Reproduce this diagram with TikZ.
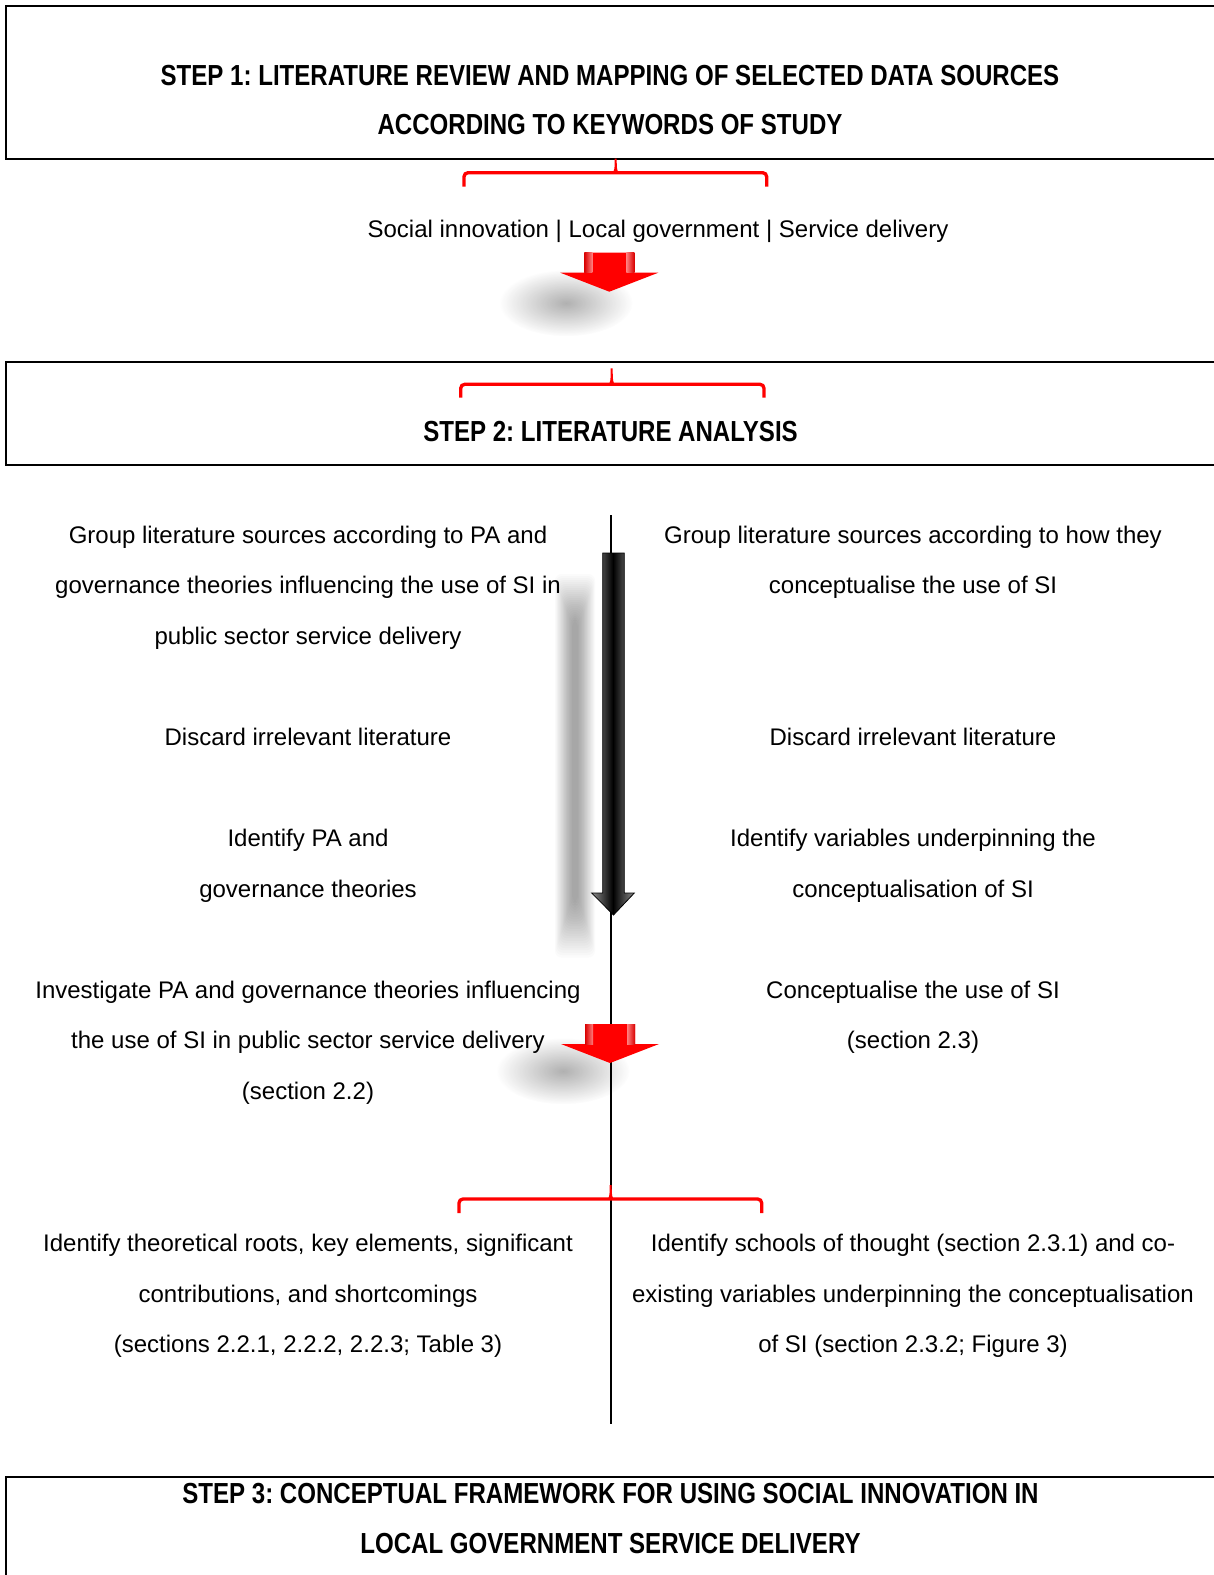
\documentclass[tikz,border=0pt]{standalone}
\usepackage{fontspec}
\setmainfont{Liberation Sans}
\newfontfamily\headfont[FakeStretch=0.83]{Liberation Sans}
\usetikzlibrary{fadings}
\frenchspacing

% soft round shadow used under the red pointers
\tikzfading[name=softspot, inner color=transparent!64, outer color=transparent!100]

% multi-line nodes are anchored on the baseline of their last line
\tikzset{
  stepframe/.style={draw=black, line width=1.7pt},
  headtext/.style={font=\headfont\bfseries\fontsize{21.75pt}{37.3pt}\selectfont,
                   align=center, anchor=base, inner sep=0pt},
  bodytext/.style={font=\fontsize{18pt}{37.9pt}\selectfont,
                   align=center, anchor=base, inner sep=0pt},
  bracket/.style={draw=red, line width=2.5pt, rounded corners=3pt},
  spine/.style={draw=black, line width=1.5pt},
  redpointer/.pic={
    \fill[red] (-25,-39) -- (25,-39) -- (25,-19) -- (49,-19) -- (0,0)
               -- (-49,-19) -- (-25,-19) -- cycle;
    \shade[left color=red!85!black, right color=red!50!white] (-25,-39) rectangle (-17,-19);
    \shade[left color=red!50!white, right color=red!85!black] (17,-39) rectangle (25,-19);
  }
}

% red bracket: left x, right x, bar y, foot y, tip x, tip top y
\newcommand\bracemark[6]{%
  \draw[bracket] (#1,#4) -- (#1,#3) -- (#2,#3) -- (#2,#4);
  \fill[red] ({#5-4},{#3+0.5}) .. controls ({#5-1.2},{#3}) and ({#5-1},{#3-5}) .. ({#5-1},#6)
     -- ({#5+1},#6) .. controls ({#5+1},{#3-5}) and ({#5+1.2},{#3}) .. ({#5+4},{#3+0.5}) -- cycle;
}

\begin{document}
\begin{tikzpicture}[x=0.75pt, y=-0.75pt]
  \clip (0,0) rectangle (1214,1575);
  \fill[white] (0,0) rectangle (1214,1575);

  % ---- step frames (open to the right) ----
  \draw[stepframe] (5.7,5.7) rectangle (1240,158.7);
  \draw[stepframe] (5.7,361.7) rectangle (1240,464.7);
  \draw[stepframe] (5.7,1476.7) rectangle (1240,1600);

  \node[headtext] (h1) at (610,134.9)
    {STEP 1: LITERATURE REVIEW AND MAPPING OF SELECTED DATA SOURCES\\ACCORDING TO KEYWORDS OF STUDY};
  \node[headtext] (h2) at (610.5,441.7) {STEP 2: LITERATURE ANALYSIS};
  \node[headtext] (h3) at (610.5,1553.2)
    {STEP 3: CONCEPTUAL FRAMEWORK FOR USING SOCIAL INNOVATION IN\\LOCAL GOVERNMENT SERVICE DELIVERY};

  % ---- brackets ----
  \bracemark{464}{766.7}{172.7}{186.7}{615.7}{158.7}
  \bracemark{460.7}{764}{384.3}{397.7}{611.7}{368.3}

  \node[bodytext] (kw) at (658,237) {Social innovation | Local government | Service delivery};

  % ---- first red pointer with its shadow ----
  \fill[black!85, path fading=softspot] (566,303) ellipse [x radius=50pt, y radius=25pt];
  \pic at (609.3,291.7) {redpointer};

  % ---- central spine ----
  \coordinate (spineTop) at (610.7,515);
  \coordinate (spineBot) at (610.7,1424);

  % blurred shadow of the long black arrow
  \foreach \k in {1,...,24}{
    \fill[black, opacity=0.015, rounded corners=5pt]
      ({575-2-0.75*\k},{622-2*\k}) rectangle ({575+2+0.75*\k},{900+2.4*\k});
  }
  \fill[black!85, path fading=softspot] (563,1071) ellipse [x radius=50pt, y radius=25pt];

  \draw[spine] (spineTop) -- (spineBot);

  % long black arrow
  \shade[left color=black!45, right color=black!45, middle color=black, draw=black, line width=0.6pt]
    (602.7,553) -- (624.3,553) -- (624.3,893) -- (634.3,893) -- (613.5,915)
    -- (591.7,893) -- (602.7,893) -- cycle;

  % second red pointer
  \pic at (610,1063) {redpointer};

  \bracemark{459}{761.7}{1199}{1213}{610.7}{1185}

  % ---- left column ----
  \node[bodytext] (l1) at (308,644.3)
    {Group literature sources according to PA and\\governance theories influencing the use of SI in\\public sector service delivery};
  \node[bodytext] (l2) at (308,745.1) {Discard irrelevant literature};
  \node[bodytext] (l3) at (308,897) {Identify PA and\\governance theories};
  \node[bodytext] (l4) at (308,1099.1)
    {Investigate PA and governance theories influencing\\the use of SI in public sector service delivery\\(section 2.2)};
  \node[bodytext] (l5) at (308,1352.7)
    {Identify theoretical roots, key elements, significant\\contributions, and shortcomings\\(sections 2.2.1, 2.2.2, 2.2.3; Table 3)};

  % ---- right column ----
  \node[bodytext] (r1) at (913,593.8)
    {Group literature sources according to how they\\conceptualise the use of SI};
  \node[bodytext] (r2) at (913,745.1) {Discard irrelevant literature};
  \node[bodytext] (r3) at (913,897) {Identify variables underpinning the\\conceptualisation of SI};
  \node[bodytext] (r4) at (913,1048.6) {Conceptualise the use of SI\\(section 2.3)};
  \node[bodytext] (r5) at (913,1352.7)
    {Identify schools of thought (section 2.3.1) and co-\\existing variables underpinning the conceptualisation\\of SI (section 2.3.2; Figure 3)};
\end{tikzpicture}
\end{document}
